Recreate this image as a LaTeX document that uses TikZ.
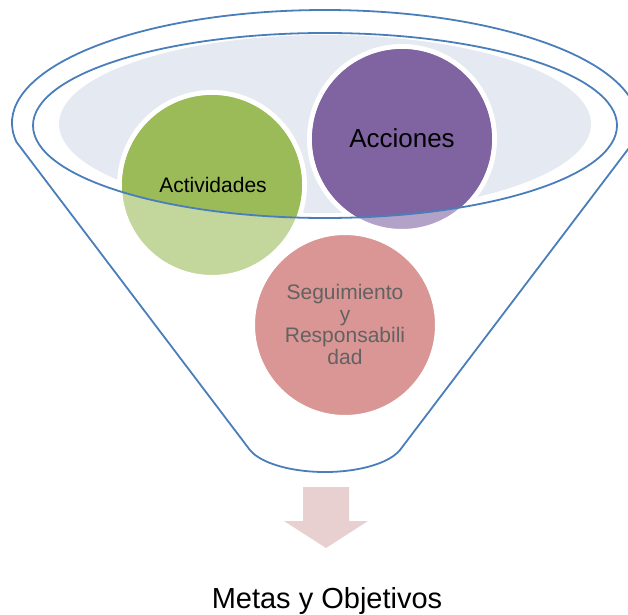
\documentclass[tikz,border=0pt]{standalone}
\usepackage{fontspec}
\setmainfont{Liberation Sans}
\definecolor{funnelblue}{RGB}{74,126,187}
\definecolor{rimfill}{RGB}{229,233,242}
\definecolor{greendark}{RGB}{155,187,89}
\definecolor{greenlight}{RGB}{195,214,155}
\definecolor{purpledark}{RGB}{128,100,162}
\definecolor{purplelight}{RGB}{179,162,199}
\definecolor{pinkfill}{RGB}{217,150,148}
\definecolor{arrowpink}{RGB}{233,208,208}
\definecolor{graytext}{RGB}{98,98,98}
\tikzset{
  funnelline/.style={draw=funnelblue, line width=1.8bp},
  ringed/.style={draw=white, line width=5bp},
  label21/.style={inner sep=0pt, font=\fontsize{21bp}{21.9bp}\selectfont},
}
\begin{document}
\begin{tikzpicture}[x=1bp,y=-1bp]
\useasboundingbox (0,0) rectangle (628,615);
\clip (0,0) rectangle (628,615);
% rim fill
\fill[rimfill] (325,124) ellipse [x radius=266, y radius=89];
% circles (light colours, white ring)
\path[fill=greenlight, ringed] (212,185) circle [radius=92.5];
\path[fill=purplelight, ringed] (402,139) circle [radius=92.5];
\path[fill=pinkfill, ringed] (345,325) circle [radius=92.5];
% darker parts inside the rim
\begin{scope}
  \clip (325,125.5) ellipse [x radius=292, y radius=92.5];
  \fill[greendark] (212,185) circle [radius=90];
  \fill[purpledark] (402,139) circle [radius=90];
\end{scope}
% inner rim
\draw[funnelline] (325,125.5) ellipse [x radius=292, y radius=92.5];
% funnel outline
\draw[funnelline] (325,123) ++(170.32:313 and 113)
  arc [start angle=170.32, end angle=369.68, x radius=313, y radius=113]
  -- (400,450)
  arc [start angle=18.2, end angle=161.8, x radius=79, y radius=32]
  -- cycle;
% block arrow
\fill[arrowpink] (303,487) -- (349,487) -- (349,521) -- (368,521) -- (326,548)
  -- (284,521) -- (303,521) -- cycle;
% texts
\node[label21, anchor=base] (actividades) at (213,192) {Actividades};
\node[inner sep=0pt, anchor=base, font=\fontsize{26bp}{28bp}\selectfont] (acciones) at (402,148) {Acciones};
\node[label21, align=center, text=graytext] (seguimiento) at (345,324.5)
  {Seguimiento\\y\\Responsabili\\dad};
\node[inner sep=0pt, anchor=base, font=\fontsize{29bp}{31bp}\selectfont] (metas) at (327,608) {Metas y Objetivos};
\end{tikzpicture}
\end{document}
